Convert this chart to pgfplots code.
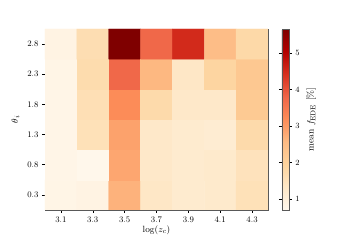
\documentclass[border=0pt]{standalone}
\usepackage{pgfplots}
\pgfplotsset{compat=1.18}
\pgfplotsset{colormap={OrRd}{rgb255=(255,247,236) rgb255=(254,232,200) rgb255=(253,212,158) rgb255=(253,187,132) rgb255=(252,141,89) rgb255=(239,101,72) rgb255=(215,48,31) rgb255=(179,0,0) rgb255=(127,0,0)}}
\begin{document}
\begin{tikzpicture}
\useasboundingbox (0pt,0pt) rectangle (360pt,240pt);
\begin{axis}[
  at={(45pt,30pt)}, anchor=south west,
  scale only axis, width=223pt, height=181pt,
  tick label style={font=\fontsize{8.5}{10}\selectfont},
  label style={font=\fontsize{9.5}{11}\selectfont},
  colormap name=OrRd,
  xmin=-0.5, xmax=6.5, ymin=-0.5, ymax=5.5,
  xtick={0,...,6}, xticklabels={3.1,3.3,3.5,3.7,3.9,4.1,4.3},
  ytick={0,...,5}, yticklabels={0.3,0.8,1.3,1.8,2.3,2.8},
  tick align=outside, xtick pos=bottom, ytick pos=left,
  major tick length=3pt,
  axis line style={black!65, line width=0.6pt},
  tick style={black, line width=0.5pt},
  xlabel={$\log(z_c)$}, ylabel={$\theta_i$},
  xlabel style={yshift=4pt}, ylabel style={yshift=1pt},
  point meta min=0.70, point meta max=5.66,
  colorbar,
  colorbar style={width=7pt, xshift=5pt, ytick={1,2,3,4,5},
    tick label style={font=\fontsize{8.5}{10}\selectfont},
    label style={font=\fontsize{9.5}{11}\selectfont},
    tick align=outside, major tick length=3pt,
    axis line style={black!65},
    ylabel={mean $f_{\mathrm{EDE}}$ [\%]}, ylabel style={yshift=0pt}},
]
\addplot[matrix plot*, mesh/cols=7, point meta=explicit] table[meta=c] {
x y c
0 0 0.80
1 0 0.85
2 0 2.68
3 0 1.35
4 0 1.20
5 0 1.25
6 0 1.55
0 1 0.78
1 1 0.72
2 1 2.85
3 1 1.30
4 1 1.20
5 1 1.25
6 1 1.50
0 2 0.78
1 2 1.55
2 2 2.90
3 2 1.30
4 2 1.20
5 2 1.15
6 2 1.75
0 3 0.78
1 3 1.60
2 3 3.20
3 3 1.75
4 3 1.30
5 3 1.30
6 3 2.20
0 4 0.80
1 4 1.70
2 4 3.75
3 4 2.60
4 4 1.35
5 4 1.90
6 4 2.25
0 5 0.85
1 5 1.65
2 5 5.66
3 5 3.75
4 5 4.50
5 5 2.50
6 5 1.80
};
\end{axis}
\end{tikzpicture}
\end{document}
